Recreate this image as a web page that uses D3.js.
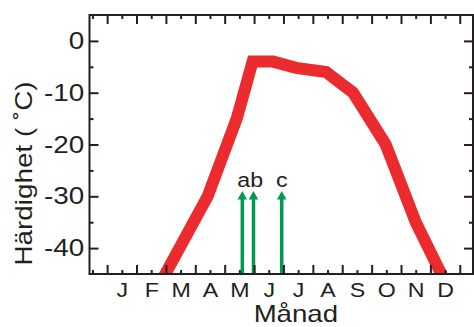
<!DOCTYPE html>
<html>
<head>
<meta charset="utf-8">
<script src="https://cdnjs.cloudflare.com/ajax/libs/d3/7.8.5/d3.min.js"></script>
<style>
    body { margin: 0; background: #fff; }
    text { font-family: "Liberation Sans", Arial, sans-serif; fill: #231f20; }
</style>
</head>
<body>
<div id="chart"></div>
<script>
// data (months as 0 = start of Jan)
var months = ['J','F','M','A','M','J','J','A','S','O','N','D'];
var line_month = [1.5, 3.42, 4.41, 4.95, 5.65, 6.43, 7.45, 8.37, 9.48, 10.5, 11.5];
var line_temp = [-50, -30, -15, -4, -4, -5.2, -6, -10, -20, -35, -46.5];
var arrow_month = [4.6, 4.98, 5.94];
var arrow_top = -29;
var label_text = ['ab', 'c'];
var label_month = [4.87, 5.94];
var label_temp = -28.2;
var y_ticks = [0, -10, -20, -30, -40];
var y_minor = [-5, -15, -25, -35];

//width and height
var chart_width = 474;
var chart_height = 327;
var stretch = 'scale(1.16,1)'; // the fonts in the original are a bit wide

var x = d3.scaleLinear().domain([-0.6, 12.45]).range([89.5, 473]);
var y = d3.scaleLinear().domain([-45, 5]).range([274, 15]);

var svg = d3.select("#chart")
            .append("svg")
            .attr("width", chart_width)
            .attr("height", chart_height);

svg.append('clipPath')
    .attr('id', 'plot_clip')
    .append('rect')
    .attr('x', x.range()[0])
    .attr('y', y.range()[1])
    .attr('width', x.range()[1] - x.range()[0])
    .attr('height', y.range()[0] - y.range()[1]);

// red hardiness line
var line = d3.line()
            .x((d) => { return x(d[0]); })
            .y((d) => { return y(d[1]); });

svg.append('path')
    .datum(d3.zip(line_month, line_temp))
    .attr('clip-path', 'url(#plot_clip)')
    .attr('d', line)
    .attr('fill', 'none')
    .attr('stroke', '#ec2b2e')
    .attr('stroke-width', 12)
    .attr('stroke-linejoin', 'miter');

// green arrows
var arrows = svg.append('g');
arrow_month.forEach((m) => {
    var ax = x(m);
    var tip = y(arrow_top);
    arrows.append('line')
        .attr('x1', ax).attr('x2', ax)
        .attr('y1', y(-45)).attr('y2', tip + 7)
        .attr('stroke', '#009a4e')
        .attr('stroke-width', 3.5);
    arrows.append('path')
        .attr('d', 'M' + (ax - 4.8) + ',' + (tip + 8.5) + 'L' + ax + ',' + tip + 'L' + (ax + 4.8) + ',' + (tip + 8.5) + 'Z')
        .attr('fill', '#009a4e');
});

label_text.forEach((t, i) => {
    svg.append('text')
        .attr('transform', 'translate(' + x(label_month[i]) + ',' + y(label_temp) + ') ' + stretch)
        .attr('text-anchor', 'middle')
        .style('font-size', '20px')
        .text(t);
});

// frame
svg.append('rect')
    .attr('x', x.range()[0])
    .attr('y', y.range()[1])
    .attr('width', x.range()[1] - x.range()[0])
    .attr('height', y.range()[0] - y.range()[1])
    .attr('fill', 'none')
    .attr('stroke', '#231f20')
    .attr('stroke-width', 2);

var clean = (g) => {
    g.select('.domain').remove();
    g.selectAll('line').attr('stroke', '#231f20').attr('stroke-width', 2);
};

// bottom axis: month boundaries, mid-month minor ticks with labels
svg.append('g')
    .attr('transform', 'translate(0,' + y(-45) + ')')
    .call(d3.axisBottom(x).tickValues(d3.range(0, 13)).tickSize(-9).tickFormat(''))
    .call(clean);

svg.append('g')
    .attr('transform', 'translate(0,' + y(-45) + ')')
    .call(d3.axisBottom(x).tickValues(d3.range(-0.5, 12, 1)).tickSize(-4).tickPadding(8.5)
        .tickFormat((d) => { return d < 0 ? '' : months[Math.round(d - 0.5)]; }))
    .call(clean)
    .selectAll('text')
    .attr('transform', stretch)
    .style('font-size', '20px');

// top axis
svg.append('g')
    .attr('transform', 'translate(0,' + y(5) + ')')
    .call(d3.axisTop(x).tickValues(d3.range(0, 13)).tickSize(-9).tickFormat(''))
    .call(clean);

svg.append('g')
    .attr('transform', 'translate(0,' + y(5) + ')')
    .call(d3.axisTop(x).tickValues(d3.range(-0.5, 12, 1)).tickSize(-4).tickFormat(''))
    .call(clean);

// left axis
svg.append('g')
    .attr('transform', 'translate(' + x(-0.6) + ',0)')
    .call(d3.axisLeft(y).tickValues(y_ticks).tickSize(-9).tickPadding(4.5)
        .tickFormat((d) => { return String(d); }))
    .call(clean)
    .selectAll('text')
    .attr('transform', stretch)
    .style('font-size', '24px');

svg.append('g')
    .attr('transform', 'translate(' + x(-0.6) + ',0)')
    .call(d3.axisLeft(y).tickValues(y_minor).tickSize(-4).tickFormat(''))
    .call(clean);

// right axis
svg.append('g')
    .attr('transform', 'translate(' + x(12.45) + ',0)')
    .call(d3.axisRight(y).tickValues(y_ticks).tickSize(-9).tickFormat(''))
    .call(clean);

svg.append('g')
    .attr('transform', 'translate(' + x(12.45) + ',0)')
    .call(d3.axisRight(y).tickValues(y_minor).tickSize(-4).tickFormat(''))
    .call(clean);

// axis titles
svg.append('text')
    .attr('transform', 'translate(32,173.5) rotate(-90) ' + stretch)
    .attr('text-anchor', 'middle')
    .style('font-size', '24px')
    .text('Härdighet ( ˚C)');

svg.append('text')
    .attr('transform', 'translate(295.8,322) scale(1.2,1)')
    .attr('text-anchor', 'middle')
    .style('font-size', '23px')
    .text('Månad');
</script>
</body>
</html>
